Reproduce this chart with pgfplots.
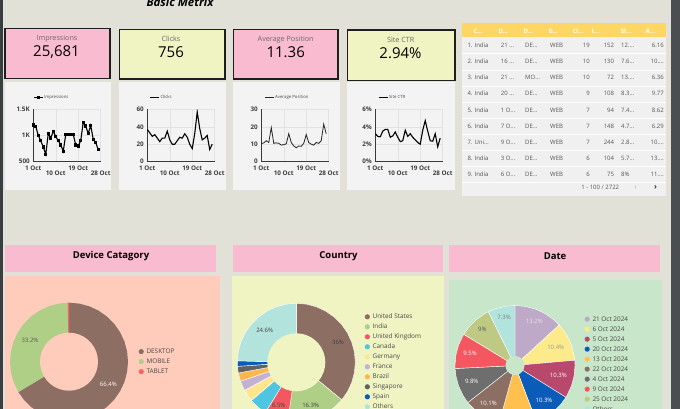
\documentclass[border=0pt]{standalone}
\usepackage{fontspec}
\setmainfont{Open Sans}
\usepackage{pgfplots}
\pgfplotsset{compat=1.18}
\definecolor{bg}{HTML}{E1E1D8}
\definecolor{darkstrip}{HTML}{3B3E41}
\definecolor{rightstrip}{HTML}{4B4E51}
\definecolor{kpipink}{HTML}{F8BBD0}
\definecolor{kpiyellow}{HTML}{F0F4C3}
\definecolor{kpiborder}{HTML}{1E1E1E}
\definecolor{panelgray}{HTML}{F3F3F3}
\definecolor{tablebg}{HTML}{F0F0F0}
\definecolor{tablegold}{HTML}{FDD663}
\definecolor{devpanel}{HTML}{FFCCBC}
\definecolor{ctypanel}{HTML}{F0F4C3}
\definecolor{datepanel}{HTML}{C8E6C9}
\definecolor{ticktext}{HTML}{3C3C3C}
\definecolor{legtext}{HTML}{474747}
\definecolor{tabtext}{HTML}{555555}
\definecolor{kpilabel}{HTML}{6A6A6A}
\definecolor{axisdark}{HTML}{3A3A3A}
\definecolor{gridgray}{HTML}{E2E2E2}
\definecolor{cbrown}{HTML}{8D6E63}
\definecolor{cgreen}{HTML}{B0CF86}
\definecolor{ctablet}{HTML}{F86565}
\definecolor{ured}{HTML}{F4575F}
\definecolor{ccyan}{HTML}{4FC6E1}
\definecolor{cyellow}{HTML}{FDE68E}
\definecolor{clav}{HTML}{C3B1D4}
\definecolor{corange}{HTML}{FFB74D}
\definecolor{cdgrey}{HTML}{616161}
\definecolor{cblue}{HTML}{0B5CB8}
\definecolor{cothers}{HTML}{B2E3DC}
\definecolor{dlav}{HTML}{BFA9C9}
\definecolor{dyellow}{HTML}{FDEA8A}
\definecolor{drasp}{HTML}{B9496C}
\definecolor{dorange}{HTML}{FFC04E}
\definecolor{dgrey}{HTML}{6E6E6E}
\definecolor{dolive}{HTML}{BEC983}

\pgfplotsset{
 minichart/.style={
  anchor=south west, width=67.4pt, height=52.4pt, scale only axis,
  xmin=1, xmax=28, xtick={1,10,19,28},
  xticklabels={1 Oct,{\raisebox{-9pt}{10 Oct}},19 Oct,{\raisebox{-9pt}{28 Oct}}},
  axis x line*=bottom, axis y line*=left,
  axis line style={draw=axisdark, line width=0.8pt, -},
  grid=major, major grid style={draw=gridgray, line width=0.5pt},
  major tick length=0pt, tick style={draw=none},
  ticklabel style={font=\fontsize{6.3}{7}\selectfont\bfseries, text=ticktext},
  xticklabel style={yshift=-1pt},
  /pgf/number format/assume math mode=true,
  legend style={draw=none, fill=none, inner sep=0pt, anchor=west,
    font=\fontsize{4.3}{5}\selectfont, text=legtext, nodes={inner sep=0.5pt}},
  legend image code/.code={\draw[mark repeat=2,mark phase=2,##1] plot coordinates {(0pt,0pt) (4.5pt,0pt) (9pt,0pt)};},
 },
 pie/.style={
  anchor=center, scale only axis, hide axis, data cs=polar, clip=false,
  legend cell align=left,
  legend style={draw=none, fill=none, inner sep=0pt, outer sep=0pt, anchor=north west,
    font=\fontsize{6.4}{7}\selectfont, text=legtext, row sep=3.3pt, column sep=2.2pt,
    nodes={inner sep=0.5pt, text height=4.7pt, text depth=1pt}},
  legend image code/.code={\fill[##1,draw=none] (2.6pt,0pt) circle (2.6pt);},
 },
}
\newcommand{\trow}[8]{%
 \node[tcell, anchor=base west] at (467.3,#1) {#2};
 \node[tcell, anchor=base west] at (500.7,#1) {#3};
 \node[tcell, anchor=base west] at (525,#1) {#4};
 \node[tcell, anchor=base west] at (550,#1) {WEB};
 \node[tcell, anchor=base east] at (590,#1) {#5};
 \node[tcell, anchor=base east] at (614.3,#1) {#6};
 \node[tcell, anchor=base west] at (621,#1) {#7};
 \node[tcell, anchor=base east] at (664,#1) {#8};
}

\begin{document}
\begin{tikzpicture}
\path[use as bounding box] (0,0) rectangle (680pt,409pt);
\clip (0,0) rectangle (680pt,409pt);
\begin{scope}[x=1pt,y=-1pt,shift={(0,409pt)},
  tcell/.style={inner sep=0pt, font=\fontsize{6}{7}\selectfont, text=tabtext}]
 \fill[bg] (0,0) rectangle (680,409);
 \fill[darkstrip] (0,0) rectangle (3,409);
 \fill[rightstrip] (671,0) rectangle (680,409);
 \node[anchor=base, inner sep=0pt, font=\fontsize{11.5}{12}\selectfont\bfseries\itshape] at (180,7) {Basic Metrix};
 % KPI boxes
 \draw[kpiborder, line width=1.2pt, fill=kpipink] (5,28.5) rectangle (110,78.5);
 \draw[kpiborder, line width=1.2pt, fill=kpiyellow] (119.5,29.5) rectangle (225,79);
 \draw[kpiborder, line width=1.2pt, fill=kpipink] (233.5,29.5) rectangle (338,79);
 \draw[kpiborder, line width=1.2pt, fill=kpiyellow] (347.5,30) rectangle (455,80.5);
 \node[inner sep=0pt, font=\fontsize{7.2}{8}\selectfont, text=kpilabel] at (57,38.5) {Impressions};
 \node[inner sep=0pt, font=\fontsize{7.2}{8}\selectfont, text=kpilabel] at (171,39) {Clicks};
 \node[inner sep=0pt, font=\fontsize{7.2}{8}\selectfont, text=kpilabel] at (285.7,39.5) {Average Position};
 \node[inner sep=0pt, font=\fontsize{7.2}{8}\selectfont, text=kpilabel] at (400.7,40) {Site CTR};
 \node[inner sep=0pt, font=\fontsize{15}{16}\selectfont] at (56.5,52) {25,681};
 \node[inner sep=0pt, font=\fontsize{15}{16}\selectfont] at (171,52) {756};
 \node[inner sep=0pt, font=\fontsize{15}{16}\selectfont] at (285.7,52) {11.36};
 \node[inner sep=0pt, font=\fontsize{15}{16}\selectfont] at (400.5,53) {2.94\%};
 % chart panels
 \fill[panelgray] (5,82) rectangle (111,190);
 \fill[panelgray] (119,82) rectangle (225.5,190);
 \fill[panelgray] (233,82) rectangle (339.5,190);
 \fill[panelgray] (347,82.5) rectangle (455,190);
 % table
 \fill[tablebg] (462,23) rectangle (666,196);
 \fill[tablegold] (462,23) rectangle (666,37);
 \foreach \yy in {53.8,69.9,86,102.1,118.2,134.3,150.4,166.5,182.6}
   \draw[white, line width=0.7pt] (462,\yy) -- (666,\yy);
 \foreach \xx/\tt in {473.3/C…,498.3/D…,523.3/D…,548.3/G…,572.3/Cl…,591.7/I…,620.7/Sl…,645.7/A…}
   \node[anchor=base west, inner sep=0pt, font=\fontsize{6}{7}\selectfont\bfseries, text=white] at (\xx,33.5) {\tt};
 \trow{47.7}{1. India}{21 …}{DE…}{19}{152}{12.…}{6.16}
 \trow{63.8}{2. India}{16 …}{DE…}{10}{130}{7.6…}{10.…}
 \trow{79.9}{3. India}{21 …}{MO…}{10}{72}{13.…}{6.36}
 \trow{96.0}{4. India}{20 …}{DE…}{9}{108}{8.3…}{9.77}
 \trow{112.1}{5. India}{1 O…}{DE…}{7}{94}{7.4…}{8.62}
 \trow{128.2}{6. India}{7 O…}{DE…}{7}{148}{4.7…}{6.29}
 \trow{144.3}{7. Uni…}{9 O…}{DE…}{7}{244}{2.8…}{10.…}
 \trow{160.4}{8. India}{3 O…}{DE…}{6}{104}{5.7…}{13.…}
 \trow{176.5}{9. India}{6 O…}{DE…}{6}{75}{8\%}{11.…}
 \node[tcell, anchor=base east] at (619.3,190) {1 - 100 / 2722};
 \node[inner sep=0pt, font=\fontsize{8}{8}\selectfont, text=gray!60] at (635.7,187.5) {‹};
 \node[inner sep=0pt, font=\fontsize{8}{8}\selectfont\bfseries, text=black!80] at (655.7,187.5) {›};
 % bottom panels
 \fill[kpipink] (5,245) rectangle (216,272);
 \node[inner sep=0pt, font=\fontsize{9.5}{10}\selectfont\bfseries] at (111,256) {Device Catagory};
 \fill[devpanel] (4.5,276) rectangle (219.5,409);
 \fill[kpipink] (233,245) rectangle (443,272);
 \node[inner sep=0pt, font=\fontsize{9.5}{10}\selectfont\bfseries] at (338.5,256) {Country};
 \fill[ctypanel] (232,276) rectangle (444,409);
 \fill[kpipink] (449,245) rectangle (660,272);
 \node[inner sep=0pt, font=\fontsize{9.5}{10}\selectfont\bfseries] at (555,256) {Date};
 \fill[datepanel] (449,280.5) rectangle (662,409);
\end{scope}

% ---------- line charts ----------
\begin{axis}[minichart, at={(33.3pt,247.3pt)}, ymin=500, ymax=1500,
  ytick={500,1000,1500}, yticklabels={500,1K,1.5K},
  legend style={at={(0,1.229)}}]
\addplot[black, line width=1.1pt, mark=square*, mark size=1.1pt] coordinates {
(1,1200) (2,1170) (3,1000) (4,900) (5,780) (6,640) (7,1040) (8,950) (9,1080) (10,980)
(11,900) (12,820) (13,700) (14,1020) (15,1020) (16,1020) (17,1020) (18,820) (19,800)
(20,900) (21,1250) (22,1180) (23,1040) (24,1190) (25,930) (26,870) (27,730)};
\addlegendentry{Impressions}
\end{axis}

\begin{axis}[minichart, at={(147.3pt,247.3pt)}, ymin=0, ymax=60,
  ytick={0,20,40,60}, legend style={at={(0.036,1.229)}}]
\addplot[black, line width=1.1pt] coordinates {
(1,37) (2,33) (3,29) (4,31) (5,27) (6,23) (7,27) (8,27) (9,35) (10,25) (11,20) (12,20)
(13,24) (14,28) (15,27) (16,32) (17,28) (18,20) (19,15) (20,32) (21,57) (22,38) (23,25)
(24,27) (25,30) (26,14) (27,20)};
\addlegendentry{Clicks}
\end{axis}

\begin{axis}[minichart, at={(261.3pt,247.3pt)}, ymin=0, ymax=30,
  ytick={0,10,20,30}, legend style={at={(0.05,1.229)}}]
\addplot[black!85, line width=0.8pt] coordinates {
(1,10.3) (2,10.8) (3,12) (4,11) (5,19.5) (6,10.5) (7,10.8) (8,10.5) (9,9.5) (10,9.8)
(11,10.2) (12,16) (13,11) (14,9) (15,8) (16,9) (17,8.8) (18,10.5) (19,15.5) (20,11)
(21,10) (22,9.5) (23,11) (24,10.5) (25,12) (26,21.5) (27,16)};
\addlegendentry{Average Position}
\end{axis}

\begin{axis}[minichart, at={(375.3pt,247.3pt)}, ymin=0, ymax=6,
  ytick={0,2,4,6}, yticklabels={0\%,2\%,4\%,6\%}, legend style={at={(0.045,1.229)}}]
\addplot[black, line width=1.1pt] coordinates {
(1,3.2) (2,2.9) (3,2.85) (4,3.5) (5,3.7) (6,3.7) (7,2.8) (8,2.95) (9,3.4) (10,2.8)
(11,2.3) (12,2.4) (13,3.6) (14,2.9) (15,3.2) (16,2.8) (17,2.5) (18,2.2) (19,2.0)
(20,3.6) (21,4.7) (22,3.5) (23,2.4) (24,2.35) (25,3.2) (26,1.7) (27,2.7)};
\addlegendentry{Site CTR}
\end{axis}

% ---------- Device donut ----------
\begin{axis}[pie, at={(69pt,47.3pt)}, width=118pt, height=118pt,
  xmin=-59, xmax=59, ymin=-59, ymax=59, legend style={at={(1.09,0.614)}}]
\addplot[fill=cbrown, draw=none] coordinates {(0,0) (90,59) (80,59) (70,59) (60,59) (50,59) (40,59) (30,59) (20,59) (10,59) (0,59) (-10,59) (-20,59) (-30,59) (-40,59) (-50,59) (-60,59) (-70,59) (-80,59) (-90,59) (-100,59) (-110,59) (-120,59) (-130,59) (-140,59) (-149.04,59)} --cycle;
\addlegendentry{DESKTOP}
\addplot[fill=cgreen, draw=none] coordinates {(0,0) (-149.04,59) (-150,59) (-160,59) (-170,59) (-180,59) (-190,59) (-200,59) (-210,59) (-220,59) (-230,59) (-240,59) (-250,59) (-260,59) (-268.56,59)} --cycle;
\addlegendentry{MOBILE}
\addplot[fill=ctablet, draw=none] coordinates {(0,0) (-268.56,59) (-270,59)} --cycle;
\addlegendentry{TABLET}
\addplot[fill=devpanel, draw=none, forget plot] coordinates {(0,29) (10,29) (20,29) (30,29) (40,29) (50,29) (60,29) (70,29) (80,29) (90,29) (100,29) (110,29) (120,29) (130,29) (140,29) (150,29) (160,29) (170,29) (180,29) (190,29) (200,29) (210,29) (220,29) (230,29) (240,29) (250,29) (260,29) (270,29) (280,29) (290,29) (300,29) (310,29) (320,29) (330,29) (340,29) (350,29)} --cycle;
\end{axis}

% ---------- Country donut ----------
\begin{axis}[pie, at={(296.3pt,46.7pt)}, width=118pt, height=118pt,
  xmin=-59, xmax=59, ymin=-59, ymax=59, legend style={at={(1.08,0.914)}}]
\addplot[fill=cbrown, draw=white, line width=0.4pt] coordinates {(0,0) (90,59) (80,59) (70,59) (60,59) (50,59) (40,59) (30,59) (20,59) (10,59) (0,59) (-10,59) (-20,59) (-30,59) (-39.6,59)} --cycle;
\addlegendentry{United States}
\addplot[fill=cgreen, draw=white, line width=0.4pt] coordinates {(0,0) (-39.6,59) (-40,59) (-50,59) (-60,59) (-70,59) (-80,59) (-90,59) (-98.28,59)} --cycle;
\addlegendentry{India}
\addplot[fill=ured, draw=white, line width=0.4pt] coordinates {(0,0) (-98.28,59) (-100,59) (-110,59) (-120,59) (-121.68,59)} --cycle;
\addlegendentry{United Kingdom}
\addplot[fill=ccyan, draw=white, line width=0.4pt] coordinates {(0,0) (-121.68,59) (-130,59) (-139.68,59)} --cycle;
\addlegendentry{Canada}
\addplot[fill=cyellow, draw=white, line width=0.4pt] coordinates {(0,0) (-139.68,59) (-145,59) (-151.56,59)} --cycle;
\addlegendentry{Germany}
\addplot[fill=clav, draw=white, line width=0.4pt] coordinates {(0,0) (-151.56,59) (-161.28,59)} --cycle;
\addlegendentry{France}
\addplot[fill=corange, draw=white, line width=0.4pt] coordinates {(0,0) (-161.28,59) (-169.56,59)} --cycle;
\addlegendentry{Brazil}
\addplot[fill=cdgrey, draw=white, line width=0.4pt] coordinates {(0,0) (-169.56,59) (-176.04,59)} --cycle;
\addlegendentry{Singapore}
\addplot[fill=cblue, draw=white, line width=0.4pt] coordinates {(0,0) (-176.04,59) (-181.44,59)} --cycle;
\addlegendentry{Spain}
\addplot[fill=cothers, draw=white, line width=0.4pt] coordinates {(0,0) (-181.44,59) (-190,59) (-200,59) (-210,59) (-220,59) (-230,59) (-240,59) (-250,59) (-260,59) (-270,59)} --cycle;
\addlegendentry{Others}
\addplot[fill=ctypanel, draw=none, forget plot] coordinates {(0,29) (10,29) (20,29) (30,29) (40,29) (50,29) (60,29) (70,29) (80,29) (90,29) (100,29) (110,29) (120,29) (130,29) (140,29) (150,29) (160,29) (170,29) (180,29) (190,29) (200,29) (210,29) (220,29) (230,29) (240,29) (250,29) (260,29) (270,29) (280,29) (290,29) (300,29) (310,29) (320,29) (330,29) (340,29) (350,29)} --cycle;
\end{axis}

% ---------- Date pie ----------
\begin{axis}[pie, at={(515pt,43.5pt)}, width=120pt, height=120pt,
  xmin=-60, xmax=60, ymin=-60, ymax=60, legend style={at={(1.08,0.914)}}]
\addplot[fill=dlav, draw=white, line width=0.4pt] coordinates {(0,0) (90,60) (80,60) (70,60) (60,60) (50,60) (42.48,60)} --cycle;
\addlegendentry{21 Oct 2024}
\addplot[fill=dyellow, draw=white, line width=0.4pt] coordinates {(0,0) (42.48,60) (40,60) (30,60) (20,60) (10,60) (5.04,60)} --cycle;
\addlegendentry{6 Oct 2024}
\addplot[fill=drasp, draw=white, line width=0.4pt] coordinates {(0,0) (5.04,60) (0,60) (-10,60) (-20,60) (-30,60) (-32.04,60)} --cycle;
\addlegendentry{5 Oct 2024}
\addplot[fill=cblue, draw=white, line width=0.4pt] coordinates {(0,0) (-32.04,60) (-40,60) (-50,60) (-60,60) (-69.12,60)} --cycle;
\addlegendentry{20 Oct 2024}
\addplot[fill=dorange, draw=white, line width=0.4pt] coordinates {(0,0) (-69.12,60) (-70,60) (-80,60) (-90,60) (-100,60) (-105.48,60)} --cycle;
\addlegendentry{13 Oct 2024}
\addplot[fill=cbrown, draw=white, line width=0.4pt] coordinates {(0,0) (-105.48,60) (-110,60) (-120,60) (-130,60) (-140,60) (-141.84,60)} --cycle;
\addlegendentry{22 Oct 2024}
\addplot[fill=dgrey, draw=white, line width=0.4pt] coordinates {(0,0) (-141.84,60) (-150,60) (-160,60) (-170,60) (-177.12,60)} --cycle;
\addlegendentry{4 Oct 2024}
\addplot[fill=ured, draw=white, line width=0.4pt] coordinates {(0,0) (-177.12,60) (-180,60) (-190,60) (-200,60) (-210,60) (-211.32,60)} --cycle;
\addlegendentry{9 Oct 2024}
\addplot[fill=dolive, draw=white, line width=0.4pt] coordinates {(0,0) (-211.32,60) (-220,60) (-230,60) (-240,60) (-243.72,60)} --cycle;
\addlegendentry{25 Oct 2024}
\addplot[fill=cothers, draw=white, line width=0.4pt] coordinates {(0,0) (-243.72,60) (-250,60) (-260,60) (-270,60)} --cycle;
\addlegendentry{Others}
\addplot[fill=datepanel, draw=none, forget plot] coordinates {(0,9.5) (20,9.5) (40,9.5) (60,9.5) (80,9.5) (100,9.5) (120,9.5) (140,9.5) (160,9.5) (180,9.5) (200,9.5) (220,9.5) (240,9.5) (260,9.5) (280,9.5) (300,9.5) (320,9.5) (340,9.5)} --cycle;
\end{axis}

% ---------- slice labels ----------
\begin{scope}[x=1pt,y=-1pt,shift={(0,409pt)},
  pl/.style={inner sep=0pt, font=\fontsize{6}{6}\selectfont}]
 \node[pl, text=white] at (108.3,384.3) {66.4\%};
 \node[pl, text=black!65] at (30,340.7) {33.2\%};
 \node[pl, text=black!75] at (338,342.7) {36\%};
 \node[pl, text=black!75] at (310.7,405) {16.3\%};
 \node[pl, text=black!75] at (278.7,405) {6.5\%};
 \node[pl, text=black!75] at (264.7,330.7) {24.6\%};
 \node[pl, text=white!90!black] at (534.3,321) {13.2\%};
 \node[pl, text=black!40] at (555.7,347.3) {10.4\%};
 \node[pl, text=white] at (558.3,375.3) {10.3\%};
 \node[pl, text=white] at (544,400.7) {10.3\%};
 \node[pl, text=white] at (488.3,403.3) {10.1\%};
 \node[pl, text=white] at (471.7,381) {9.8\%};
 \node[pl, text=white] at (470,353.3) {9.5\%};
 \node[pl, text=black!65] at (482.3,329.3) {9\%};
 \node[pl, text=black!50] at (504,317.3) {7.3\%};
\end{scope}
\end{tikzpicture}
\end{document}
